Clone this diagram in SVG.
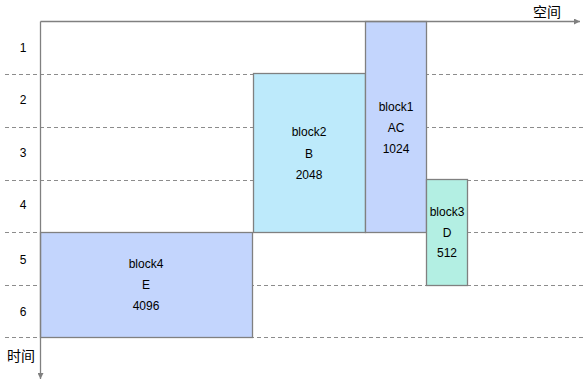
<svg xmlns="http://www.w3.org/2000/svg" width="583" height="381" viewBox="0 0 583 381">
<style>
.grid{stroke:#8c8c8c;stroke-width:1;stroke-dasharray:4,3;fill:none}
.axis{stroke:#808080;stroke-width:1.3;fill:none}
.blk{stroke:#808080;stroke-width:1.3}
.t{font-family:"Liberation Sans","Noto Sans CJK SC",sans-serif;font-size:12px;fill:#000;text-anchor:middle}
.r{font-family:"Liberation Sans",sans-serif;font-size:12px;fill:#000;text-anchor:middle}
.cjk{font-family:"Noto Sans CJK SC",sans-serif;font-size:14px;fill:#000;text-anchor:middle}
</style>
<defs>
<marker id="ah" viewBox="0 0 10 10" refX="10" refY="5" markerWidth="6" markerHeight="6" orient="auto" markerUnits="userSpaceOnUse">
<path d="M0,0 L10,5 L0,10 z" fill="#808080"/>
</marker>
</defs>
<rect width="583" height="381" fill="#fff"/>
<g id="grid">
<line class="grid" x1="5" y1="74.5" x2="583" y2="74.5"/>
<line class="grid" x1="5" y1="127.5" x2="583" y2="127.5"/>
<line class="grid" x1="5" y1="180.5" x2="583" y2="180.5"/>
<line class="grid" x1="5" y1="232.5" x2="583" y2="232.5"/>
<line class="grid" x1="5" y1="285.5" x2="583" y2="285.5"/>
<line class="grid" x1="5" y1="337.5" x2="583" y2="337.5"/>
</g>
<g id="rows">
<text class="r" x="23" y="52">1</text>
<text class="r" x="23" y="104">2</text>
<text class="r" x="23" y="157">3</text>
<text class="r" x="23" y="209">4</text>
<text class="r" x="23" y="264">5</text>
<text class="r" x="23" y="316">6</text>
</g>
<g id="block4">
<rect class="blk" x="40.5" y="232.5" width="212" height="105" fill="#c3d5fd"/>
<text class="t" x="146" y="267.5">block4</text>
<text class="t" x="146" y="288.5">E</text>
<text class="t" x="146" y="309.5">4096</text>
</g>
<g id="block2">
<rect class="blk" x="253.5" y="73.5" width="112" height="159" fill="#bdeafb"/>
<text class="t" x="309" y="136">block2</text>
<text class="t" x="309" y="157.5">B</text>
<text class="t" x="309" y="178.5">2048</text>
</g>
<g id="block1">
<rect class="blk" x="365.5" y="21.5" width="61" height="211" fill="#c3d5fd"/>
<text class="t" x="396" y="110.5">block1</text>
<text class="t" x="396" y="131.5">AC</text>
<text class="t" x="396" y="152.5">1024</text>
</g>
<g id="block3">
<rect class="blk" x="426.5" y="179.5" width="41" height="106" fill="#b3efe3"/>
<text class="t" x="447" y="216">block3</text>
<text class="t" x="447" y="236.5">D</text>
<text class="t" x="447" y="257">512</text>
</g>
<g id="connectors">
<line class="axis" x1="40.5" y1="21.5" x2="580" y2="21.5" marker-end="url(#ah)"/>
<line class="axis" x1="40.5" y1="21.5" x2="40.5" y2="379" marker-end="url(#ah)"/>
</g>
<g id="labels">
<text class="cjk" x="547" y="17">空间</text>
<text class="cjk" x="21" y="361">时间</text>
</g>
</svg>
